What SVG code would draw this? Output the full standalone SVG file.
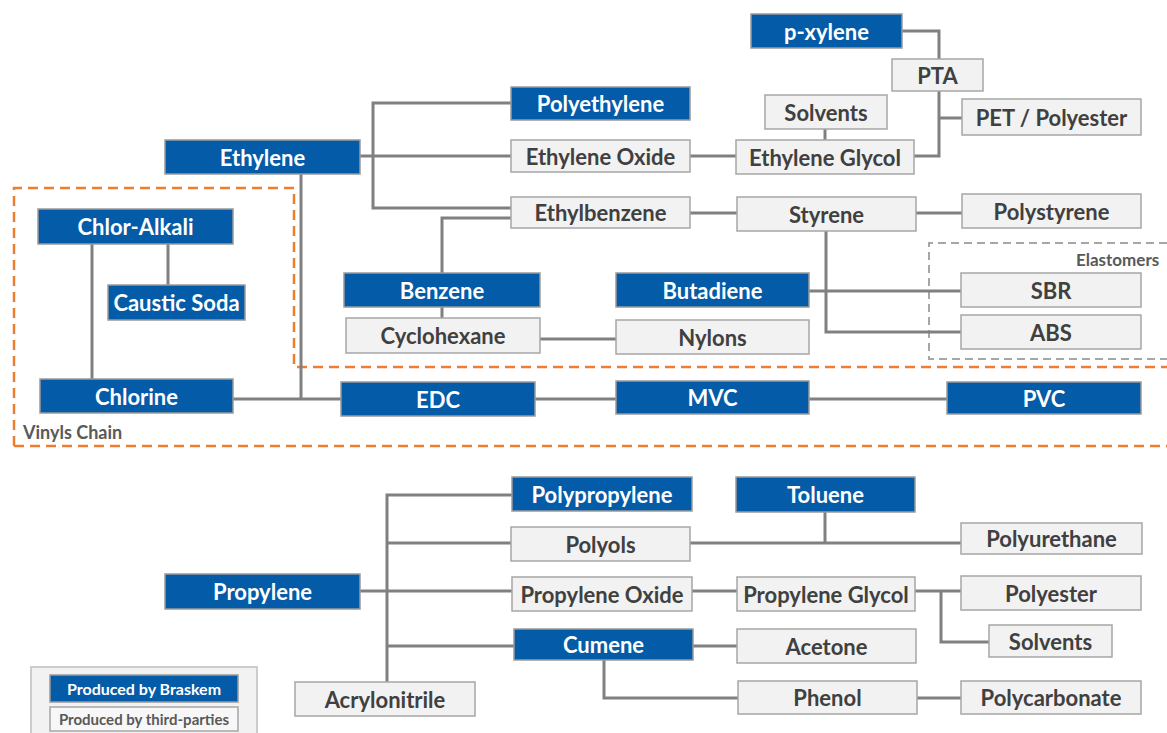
<svg xmlns="http://www.w3.org/2000/svg" width="1167" height="733" viewBox="0 0 1167 733">
<style>
.b rect{fill:#045BA8;stroke:#9a9a9a;stroke-width:1.5}
.b text{fill:#fff}
.g rect{fill:#f2f2f2;stroke:#a6a6a6;stroke-width:1.5}
.g text{fill:#404040}
text{font-family:Lato,"Liberation Sans",sans-serif;font-weight:bold;font-size:22px;text-anchor:middle;dominant-baseline:central}
#connectors path{fill:none;stroke:#808080;stroke-width:3}
.lbl{fill:#595959;text-anchor:start}
</style>
<rect width="1167" height="733" fill="#fff"/>
<path d="M14,446 V188 H294 V367 H1167 M14,446 H1167" fill="none" stroke="#ED7D31" stroke-width="2.5" stroke-dasharray="10 6"/>
<path d="M1167,243 H929 V359 H1167" fill="none" stroke="#a6a6a6" stroke-width="2" stroke-dasharray="8 5"/>
<text class="lbl" x="1076" y="259" style="font-size:17px">Elastomers</text>
<text class="lbl" x="23" y="432" style="font-size:18px">Vinyls Chain</text>
<g id="connectors">
<path d="M902,31 H939 V59"/>
<path d="M939,91 V156 H914 M939,118 H962"/>
<path d="M825,129 V140"/>
<path d="M690,156 H736"/>
<path d="M360,156 H511 M511,103 H373 V208 H511"/>
<path d="M511,218 H442 V273 M442,307 V318"/>
<path d="M690,213 H737"/>
<path d="M916,213 H962"/>
<path d="M826,231 V332 H961"/>
<path d="M809,291 H961"/>
<path d="M540,339 H616"/>
<path d="M168,244 V285"/>
<path d="M92,244 V379"/>
<path d="M301,174 V399"/>
<path d="M233,399 H341"/>
<path d="M535,399 H616"/>
<path d="M809,399 H947"/>
<path d="M360,591 H512 M512,495 H387 V682 M387,543 H511 M387,646 H514"/>
<path d="M690,543 H961 M825,512 V543"/>
<path d="M692,591 H737"/>
<path d="M915,591 H961 M941,591 V642 H989"/>
<path d="M693,646 H737"/>
<path d="M604,660 V698 H738"/>
<path d="M917,698 H961"/>
</g>
<g id="pxylene" class="b"><rect x="751" y="14" width="151" height="34"/><text x="826.5" y="31">p-xylene</text></g>
<g id="polyethylene" class="b"><rect x="511" y="87" width="179" height="33"/><text x="600.5" y="103.5">Polyethylene</text></g>
<g id="ethylene" class="b"><rect x="165" y="140" width="195" height="34"/><text x="262.5" y="157">Ethylene</text></g>
<g id="chloralkali" class="b"><rect x="38" y="209" width="195" height="35"/><text x="135.5" y="226.5">Chlor-Alkali</text></g>
<g id="causticsoda" class="b"><rect x="108" y="285" width="137" height="35"/><text x="176.5" y="302.5">Caustic Soda</text></g>
<g id="benzene" class="b"><rect x="344" y="273" width="196" height="34"/><text x="442" y="290">Benzene</text></g>
<g id="butadiene" class="b"><rect x="616" y="273" width="193" height="34"/><text x="712.5" y="290">Butadiene</text></g>
<g id="chlorine" class="b"><rect x="40" y="379" width="193" height="34"/><text x="136.5" y="396">Chlorine</text></g>
<g id="edc" class="b"><rect x="341" y="382" width="194" height="34"/><text x="438" y="399">EDC</text></g>
<g id="mvc" class="b"><rect x="616" y="381" width="193" height="33"/><text x="712.5" y="397.5">MVC</text></g>
<g id="pvc" class="b"><rect x="947" y="382" width="194" height="32"/><text x="1044" y="398">PVC</text></g>
<g id="polypropylene" class="b"><rect x="512" y="477" width="180" height="34"/><text x="602" y="494">Polypropylene</text></g>
<g id="toluene" class="b"><rect x="736" y="477" width="179" height="35"/><text x="825.5" y="494.5">Toluene</text></g>
<g id="propylene" class="b"><rect x="165" y="574" width="195" height="35"/><text x="262.5" y="591.5">Propylene</text></g>
<g id="cumene" class="b"><rect x="514" y="629" width="179" height="31"/><text x="603.5" y="644.5">Cumene</text></g>
<g id="pta" class="g"><rect x="892" y="59" width="91" height="32"/><text x="937.5" y="75">PTA</text></g>
<g id="solvents1" class="g"><rect x="765" y="95" width="122" height="34"/><text x="826" y="112">Solvents</text></g>
<g id="pet" class="g"><rect x="962" y="99" width="179" height="36"/><text x="1051.5" y="117">PET / Polyester</text></g>
<g id="ethyleneoxide" class="g"><rect x="511" y="140" width="179" height="32"/><text x="600.5" y="156">Ethylene Oxide</text></g>
<g id="ethyleneglycol" class="g"><rect x="736" y="140" width="178" height="34"/><text x="825" y="157">Ethylene Glycol</text></g>
<g id="ethylbenzene" class="g"><rect x="511" y="197" width="179" height="31"/><text x="600.5" y="212.5">Ethylbenzene</text></g>
<g id="styrene" class="g"><rect x="737" y="197" width="179" height="34"/><text x="826.5" y="214">Styrene</text></g>
<g id="polystyrene" class="g"><rect x="962" y="194" width="179" height="34"/><text x="1051.5" y="211">Polystyrene</text></g>
<g id="sbr" class="g"><rect x="961" y="273" width="180" height="34"/><text x="1051" y="290">SBR</text></g>
<g id="abs" class="g"><rect x="961" y="315" width="180" height="34"/><text x="1051" y="332">ABS</text></g>
<g id="cyclohexane" class="g"><rect x="346" y="318" width="194" height="35"/><text x="443" y="335.5">Cyclohexane</text></g>
<g id="nylons" class="g"><rect x="616" y="320" width="193" height="34"/><text x="712.5" y="337">Nylons</text></g>
<g id="polyols" class="g"><rect x="511" y="527" width="179" height="34"/><text x="600.5" y="544">Polyols</text></g>
<g id="polyurethane" class="g"><rect x="961" y="523" width="181" height="31"/><text x="1051.5" y="538.5">Polyurethane</text></g>
<g id="propyleneoxide" class="g"><rect x="512" y="577" width="180" height="34"/><text x="602" y="594">Propylene Oxide</text></g>
<g id="propyleneglycol" class="g"><rect x="737" y="577" width="178" height="34"/><text x="826" y="594">Propylene Glycol</text></g>
<g id="polyester" class="g"><rect x="961" y="576" width="180" height="34"/><text x="1051" y="593">Polyester</text></g>
<g id="solvents2" class="g"><rect x="989" y="625" width="123" height="32"/><text x="1050.5" y="641">Solvents</text></g>
<g id="acetone" class="g"><rect x="737" y="629" width="179" height="34"/><text x="826.5" y="646">Acetone</text></g>
<g id="acrylonitrile" class="g"><rect x="295" y="682" width="180" height="34"/><text x="385" y="699">Acrylonitrile</text></g>
<g id="phenol" class="g"><rect x="738" y="681" width="179" height="33"/><text x="827.5" y="697.5">Phenol</text></g>
<g id="polycarbonate" class="g"><rect x="961" y="681" width="180" height="33"/><text x="1051" y="697.5">Polycarbonate</text></g>
<g id="legend">
<rect x="31" y="667" width="226" height="72" fill="#f2f2f2" stroke="#bfbfbf" stroke-width="1.5"/>
<g class="b"><rect x="50" y="675" width="188" height="27"/><text x="144" y="688.5" style="font-size:16px">Produced by Braskem</text></g>
<g class="g"><rect x="50" y="707" width="188" height="24" style="fill:#f7f7f7"/><text x="144" y="719" style="font-size:15px;fill:#595959">Produced by third-parties</text></g>
</g>
</svg>
